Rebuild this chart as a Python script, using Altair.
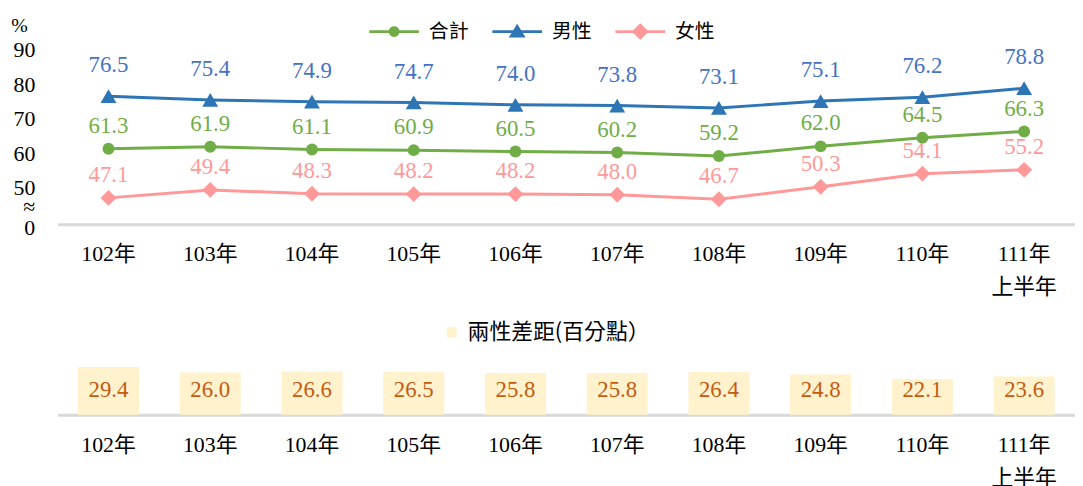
import altair as alt
import pandas as pd

# ---- data ----
years = ["102年", "103年", "104年", "105年", "106年", "107年", "108年", "109年", "110年", "111年上半年"]
total = [61.3, 61.9, 61.1, 60.9, 60.5, 60.2, 59.2, 62.0, 64.5, 66.3]
male = [76.5, 75.4, 74.9, 74.7, 74.0, 73.8, 73.1, 75.1, 76.2, 78.8]
female = [47.1, 49.4, 48.3, 48.2, 48.2, 48.0, 46.7, 50.3, 54.1, 55.2]
gap = [29.4, 26.0, 26.6, 26.5, 25.8, 25.8, 26.4, 24.8, 22.1, 23.6]
series_names = ["合計", "男性", "女性"]
gap_name = "兩性差距(百分點）"
y_ticks = [44.6, 50, 60, 70, 80, 90]

# ---- styles ----
line_colors = ["#70AD47", "#2E75B6", "#FF9999"]
label_colors = ["#70AD47", "#4472C4", "#FF9999"]
shapes = ["circle", "triangle-up", "diamond"]
sizes = [144, 256, 256]
label_dy = [-23, -31, -23]
RECT = "M-2.5,-0.15H2.5V0.15H-2.5Z "
legend_paths = [
    RECT + "M0.55,0A0.55,0.55 0 1,1 -0.55,0A0.55,0.55 0 1,1 0.55,0Z",
    RECT + "M0,-0.8L0.85,0.6L-0.85,0.6Z",
    RECT + "M0,-0.85L0.85,0L0,0.85L-0.85,0Z",
]
NUM = "Liberation Serif, Noto Sans CJK TC, serif"
CJK = "Noto Sans CJK TC"

rows = []
for name, vals in zip(series_names, [total, male, female]):
    for yr, v in zip(years, vals):
        rows.append({"year": yr, "series": name, "value": v})
df = pd.DataFrame(rows)
gdf = pd.DataFrame({"year": years, "gap": gap})

xscale = alt.Scale(domain=years, paddingInner=0.4, paddingOuter=0.2)
ytop = alt.Scale(domain=[39.5, 90], range=[216, 40])
ybot = alt.Scale(domain=[0, 30], range=[408, 359])
label_expr = ("length(datum.label) > 4 ? [substring(datum.label, 0, 4), "
              "substring(datum.label, 4)] : datum.label")


def xaxis(offset):
    return alt.Axis(orient="bottom", offset=offset, title=None, labelAngle=0,
                    labelExpr=label_expr, labelFont=NUM, labelFontSize=22,
                    labelFontWeight="normal",
                    labelColor="black", labelPadding=20, labelLineHeight=33,
                    ticks=False, domainColor="#D9D9D9", domainWidth=3,
                    grid=False, labelOverlap=False)


yaxis = alt.Axis(values=y_ticks,
                 labelExpr="datum.value < 48 ? ['≈', '0'] : datum.label",
                 title="%", titleAngle=0, titleX=-39, titleY=16, titleAlign="center",
                 titleBaseline="middle", titleFont=NUM, titleFontSize=20,
                 titleFontWeight="normal", titleColor="black",
                 labelFont=NUM, labelFontSize=22, labelFontWeight="normal",
                 labelColor="black", labelPadding=23,
                 labelLineHeight=21, ticks=False, domain=False, grid=False,
                 labelOverlap=False)

xn = alt.X("year:N", scale=xscale, sort=years, axis=None)
yn = alt.Y("value:Q", scale=ytop, axis=None)

lines, points, texts = [], [], []
for i, name in enumerate(series_names):
    base = alt.Chart(df).transform_filter(alt.datum.series == name)
    lines.append(base.mark_line(color=line_colors[i], strokeWidth=3).encode(
        x=alt.X("year:N", scale=xscale, sort=years, axis=xaxis(-262) if i == 0 else None),
        y=alt.Y("value:Q", scale=ytop, axis=yaxis if i == 0 else None),
    ))
    points.append(base.mark_point(filled=True, shape=shapes[i], size=sizes[i],
                                  color=line_colors[i], opacity=1).encode(x=xn, y=yn))
    texts.append(base.mark_text(font=NUM, fontSize=23, color=label_colors[i],
                                dy=label_dy[i], baseline="middle").encode(
        x=xn, y=yn, text=alt.Text("value:Q", format=".1f")))

leg = alt.Legend(orient="none", legendX=329, legendY=12, direction="horizontal",
                 title=None, symbolSize=400, symbolStrokeWidth=0, symbolOpacity=1,
                 labelFont=CJK, labelFontSize=20, labelColor="black",
                 labelOffset=25, columnPadding=24)
legend_layer = alt.Chart(df).transform_filter("false").mark_point(filled=True).encode(
    x=xn, y=yn,
    color=alt.Color("series:N", scale=alt.Scale(domain=series_names, range=line_colors), legend=leg),
    shape=alt.Shape("series:N", scale=alt.Scale(domain=series_names, range=legend_paths), legend=leg),
)

bleg = alt.Legend(orient="none", legendX=386, legendY=314, title=None,
                  symbolType="square", symbolSize=100, symbolStrokeWidth=0,
                  labelFont=CJK, labelFontSize=22, labelColor="black", labelOffset=5,
                  labelLimit=400)
bars = alt.Chart(gdf).transform_calculate(lbl="'" + gap_name + "'").mark_bar().encode(
    x=alt.X("year:N", scale=xscale, sort=years, axis=xaxis(-70)),
    y=alt.Y("gap:Q", scale=ybot, axis=None),
    color=alt.Color("lbl:N", scale=alt.Scale(domain=[gap_name], range=["#FFF2CC"]), legend=bleg),
)
bar_text = alt.Chart(gdf).transform_calculate(zero="0").mark_text(
    font=NUM, fontSize=23, color="#C55A11", dy=-25, baseline="middle").encode(
    x=alt.X("year:N", scale=xscale, sort=years, axis=None),
    y=alt.Y("zero:Q", scale=ybot, axis=None),
    text=alt.Text("gap:Q", format=".1f"),
)

chart = alt.layer(*lines, *points, *texts, legend_layer, bars, bar_text).resolve_scale(
    y="independent", color="independent", shape="independent"
).resolve_axis(x="independent", y="independent").properties(
    width=1025, height=478,
    autosize=alt.AutoSizeParams(type="none"),
    padding={"left": 50, "right": 0, "top": 0, "bottom": 0},
).configure_view(stroke=None).configure_axis(
    labelFont=NUM, titleFont=NUM, labelFontWeight="normal"
)

chart.save("out.html", embed_options={"renderer": "svg", "actions": False})
